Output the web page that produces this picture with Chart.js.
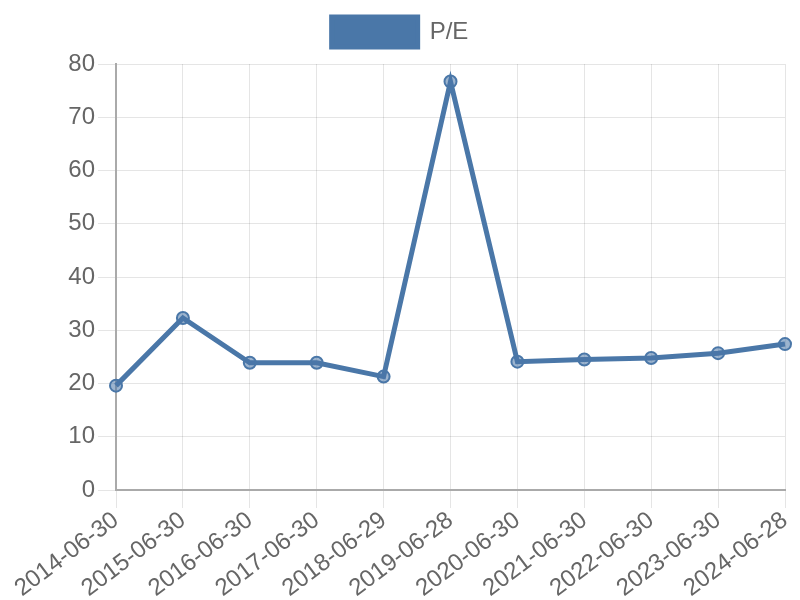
<!DOCTYPE html>
<html>
<head>
<meta charset="utf-8">
<script src="https://cdn.jsdelivr.net/npm/chart.js@4/dist/chart.umd.min.js"></script>
<style>
html,body{margin:0;padding:0;background:#fff;}
#wrap{width:800px;height:600px;}
</style>
</head>
<body>
<div id="wrap"><canvas id="c" width="800" height="600"></canvas></div>
<script>
const categories = ["2014-06-30","2015-06-30","2016-06-30","2017-06-30","2018-06-29","2019-06-28","2020-06-30","2021-06-30","2022-06-30","2023-06-30","2024-06-28"];
const peValues = [19.6, 32.3, 23.9, 23.9, 21.3, 76.7, 24.1, 24.5, 24.8, 25.7, 27.4];
const seriesLabel = "P/E";

Chart.defaults.font.family = "'Liberation Sans', Arial, sans-serif";
Chart.defaults.font.size = 24;
Chart.defaults.color = "#666";

const legendSpacer = {
  id: 'legendSpacer',
  beforeLayout(chart) {
    const lg = chart.legend;
    if (lg && !lg._spacerPatched) {
      const orig = lg.fit;
      lg.fit = function () { orig.call(this); this.height += 7; };
      lg._spacerPatched = true;
    }
  }
};

new Chart(document.getElementById('c'), {
  type: 'line',
  data: {
    labels: categories,
    datasets: [{
      label: seriesLabel,
      data: peValues,
      borderColor: '#4a77a8',
      backgroundColor: '#4a77a8',
      pointBackgroundColor: 'rgba(74,119,168,0.55)',
      pointBorderColor: '#4a77a8',
      pointBorderWidth: 2,
      pointRadius: 6,
      borderWidth: 5,
      tension: 0,
      fill: false
    }]
  },
  plugins: [legendSpacer],
  options: {
    responsive: false,
    animation: false,
    layout: { padding: { top: 7, right: 0, left: 0, bottom: 0 } },
    plugins: {
      legend: {
        labels: {
          boxWidth: 86,
          boxHeight: 30,
          font: { size: 24 }
        }
      },
      tooltip: { enabled: false }
    },
    scales: {
      x: {
        ticks: { maxRotation: 37, minRotation: 37, padding: 0, font: { size: 24, lineHeight: 1.0 } },
        grid: { color: 'rgba(0,0,0,0.1)', tickLength: 18 },
        border: { color: '#aaa', width: 2 },
        afterFit: function (s) { s.paddingRight = 15; s.paddingLeft = 116; s.height = 110; }
      },
      y: {
        min: 0, max: 80,
        ticks: { stepSize: 10, padding: 3, font: { size: 24 } },
        grid: { color: 'rgba(0,0,0,0.1)', tickLength: 18 },
        border: { color: '#aaa', width: 2 }
      }
    }
  }
});
</script>
</body>
</html>
